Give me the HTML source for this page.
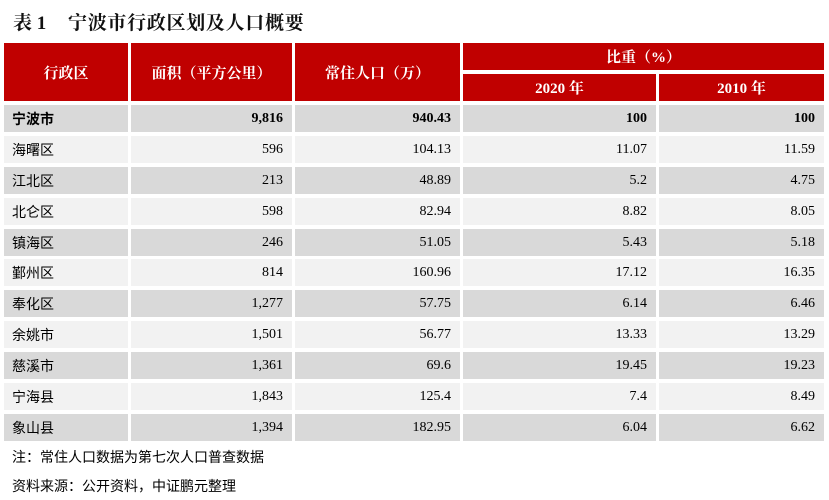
<!DOCTYPE html>
<html><head><meta charset="utf-8"><style>
*{margin:0;padding:0;box-sizing:border-box}
body{width:829px;height:500px;background:#fff;position:relative;overflow:hidden;font-family:"Liberation Serif","Noto Serif CJK SC",serif}
.t{position:absolute;white-space:nowrap}
.c{position:absolute;display:flex;align-items:center;font-size:14px;color:#000;font-family:"Liberation Serif","Noto Sans CJK SC",sans-serif;height:27px}
.h{background:#C00000;color:#fff;font-weight:bold;justify-content:center;font-size:15px;font-family:"Liberation Serif","Noto Serif CJK SC",serif}
.d{background:#D9D9D9}
.l{background:#F2F2F2}
.n{justify-content:flex-end;padding-right:9px}
.k{padding-left:8px}
.b{font-weight:bold}
.c1{left:4px;width:124px}
.c2{left:131px;width:161px}
.c3{left:295px;width:165px}
.c4{left:463px;width:193px}
.c5{left:659px;width:165px}
.f{font-family:"Liberation Sans","Noto Sans CJK SC",sans-serif;font-size:14px;color:#000}
</style></head><body>
<div class="t" style="left:13px;top:8px;font-size:19px;font-weight:bold;color:#111">表 1</div>
<div class="t" style="left:68px;top:8px;font-size:19px;font-weight:bold;color:#111;letter-spacing:0.7px">宁波市行政区划及人口概要</div>

<div class="c h c1" style="top:43px;height:58px">行政区</div>
<div class="c h c2" style="top:43px;height:58px">面积（平方公里）</div>
<div class="c h c3" style="top:43px;height:58px">常住人口（万）</div>
<div class="c h" style="left:463px;top:43px;width:361px">比重（%）</div>
<div class="c h c4" style="top:74px">2020 年</div>
<div class="c h c5" style="top:74px">2010 年</div>

<div class="c d b k c1" style="top:105px">宁波市</div>
<div class="c d b n c2" style="top:105px">9,816</div>
<div class="c d b n c3" style="top:105px">940.43</div>
<div class="c d b n c4" style="top:105px">100</div>
<div class="c d b n c5" style="top:105px">100</div>

<div class="c l k c1" style="top:136px">海曙区</div>
<div class="c l n c2" style="top:136px">596</div>
<div class="c l n c3" style="top:136px">104.13</div>
<div class="c l n c4" style="top:136px">11.07</div>
<div class="c l n c5" style="top:136px">11.59</div>

<div class="c d k c1" style="top:167px">江北区</div>
<div class="c d n c2" style="top:167px">213</div>
<div class="c d n c3" style="top:167px">48.89</div>
<div class="c d n c4" style="top:167px">5.2</div>
<div class="c d n c5" style="top:167px">4.75</div>

<div class="c l k c1" style="top:198px">北仑区</div>
<div class="c l n c2" style="top:198px">598</div>
<div class="c l n c3" style="top:198px">82.94</div>
<div class="c l n c4" style="top:198px">8.82</div>
<div class="c l n c5" style="top:198px">8.05</div>

<div class="c d k c1" style="top:229px">镇海区</div>
<div class="c d n c2" style="top:229px">246</div>
<div class="c d n c3" style="top:229px">51.05</div>
<div class="c d n c4" style="top:229px">5.43</div>
<div class="c d n c5" style="top:229px">5.18</div>

<div class="c l k c1" style="top:259px">鄞州区</div>
<div class="c l n c2" style="top:259px">814</div>
<div class="c l n c3" style="top:259px">160.96</div>
<div class="c l n c4" style="top:259px">17.12</div>
<div class="c l n c5" style="top:259px">16.35</div>

<div class="c d k c1" style="top:290px">奉化区</div>
<div class="c d n c2" style="top:290px">1,277</div>
<div class="c d n c3" style="top:290px">57.75</div>
<div class="c d n c4" style="top:290px">6.14</div>
<div class="c d n c5" style="top:290px">6.46</div>

<div class="c l k c1" style="top:321px">余姚市</div>
<div class="c l n c2" style="top:321px">1,501</div>
<div class="c l n c3" style="top:321px">56.77</div>
<div class="c l n c4" style="top:321px">13.33</div>
<div class="c l n c5" style="top:321px">13.29</div>

<div class="c d k c1" style="top:352px">慈溪市</div>
<div class="c d n c2" style="top:352px">1,361</div>
<div class="c d n c3" style="top:352px">69.6</div>
<div class="c d n c4" style="top:352px">19.45</div>
<div class="c d n c5" style="top:352px">19.23</div>

<div class="c l k c1" style="top:383px">宁海县</div>
<div class="c l n c2" style="top:383px">1,843</div>
<div class="c l n c3" style="top:383px">125.4</div>
<div class="c l n c4" style="top:383px">7.4</div>
<div class="c l n c5" style="top:383px">8.49</div>

<div class="c d k c1" style="top:414px">象山县</div>
<div class="c d n c2" style="top:414px">1,394</div>
<div class="c d n c3" style="top:414px">182.95</div>
<div class="c d n c4" style="top:414px">6.04</div>
<div class="c d n c5" style="top:414px">6.62</div>

<div class="t f" style="left:12px;top:447px">注：常住人口数据为第七次人口普查数据</div>
<div class="t f" style="left:12px;top:476px">资料来源：公开资料，中证鹏元整理</div>
</body></html>
